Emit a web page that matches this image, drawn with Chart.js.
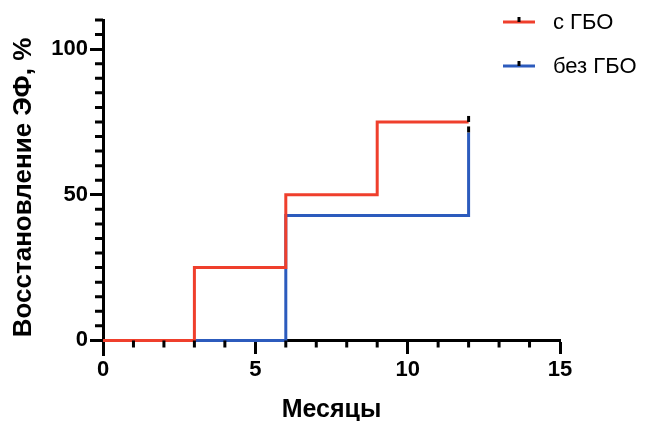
<!DOCTYPE html>
<html>
<head>
<meta charset="utf-8">
<script src="https://cdn.jsdelivr.net/npm/chart.js@4.4.1/dist/chart.umd.min.js"></script>
<style>
  html, body { margin: 0; padding: 0; background: #fff; }
  #wrap { width: 651px; height: 421px; }
</style>
</head>
<body>
<div id="wrap"><canvas id="c"></canvas></div>
<script>
// Kaplan-Meier style curves, values in %
const monthsHbo = [0, 3, 6, 9, 12];
const valuesHbo = [0, 25, 50, 75, 75];
const monthsNoHbo = [0, 6, 12];
const valuesNoHbo = [0, 42.9, 71.4];
const seriesNames = ['с ГБО', 'без ГБО'];
const seriesColors = ['#ef3f2c', '#2c5bbd'];
const xTicks = [0, 5, 10, 15];
const yTicks = [0, 50, 100];

const fontFamily = '"Liberation Sans", Arial, sans-serif';
const axisFont = { family: fontFamily, size: 22, weight: 'bold' };

// minor ticks, censor marks and legend
const kmExtras = {
    id: 'kmExtras',
    afterDatasetsDraw(chart) {
        const ctx = chart.ctx;
        const x = chart.scales.x, y = chart.scales.y;
        const y0 = y.getPixelForValue(0);
        ctx.save();
        ctx.strokeStyle = '#000';
        ctx.lineWidth = 3;
        ctx.beginPath();
        for (let v = 1; v < 15; v++) {
            if (v % 5 === 0) continue;
            const px = x.getPixelForValue(v);
            ctx.moveTo(px, y0);
            ctx.lineTo(px, y0 + 7);
        }
        for (let v = 5; v <= 110; v += 5) {
            if (v % 50 === 0) continue;
            const py = y.getPixelForValue(v);
            ctx.moveTo(x.left, py);
            ctx.lineTo(x.left - 8, py);
        }
        ctx.stroke();

        // censor ticks at the last point of each curve
        chart.data.datasets.forEach((ds, i) => {
            const pts = chart.getDatasetMeta(i).data;
            const p = pts[pts.length - 1];
            ctx.beginPath();
            ctx.moveTo(p.x, p.y);
            ctx.lineTo(p.x, p.y - 6);
            ctx.stroke();
        });

        // legend
        ctx.font = '22px ' + fontFamily;
        ctx.textBaseline = 'middle';
        chart.data.datasets.forEach((ds, i) => {
            const ly = 22 + i * 44;
            ctx.strokeStyle = ds.borderColor;
            ctx.beginPath();
            ctx.moveTo(503, ly);
            ctx.lineTo(535, ly);
            ctx.stroke();
            ctx.strokeStyle = '#000';
            ctx.beginPath();
            ctx.moveTo(519, ly);
            ctx.lineTo(519, ly - 5);
            ctx.stroke();
            ctx.fillStyle = '#000';
            ctx.fillText(ds.label, 553, ly + 1);
        });
        ctx.restore();
    }
};

new Chart(document.getElementById('c'), {
    type: 'line',
    data: {
        datasets: [
            {
                label: seriesNames[0],
                data: monthsHbo.map((m, i) => ({ x: m, y: valuesHbo[i] })),
                borderColor: seriesColors[0],
                borderWidth: 3,
                stepped: true,
                pointRadius: 0
            },
            {
                label: seriesNames[1],
                data: monthsNoHbo.map((m, i) => ({ x: m, y: valuesNoHbo[i] })),
                borderColor: seriesColors[1],
                borderWidth: 3,
                stepped: true,
                pointRadius: 0
            }
        ]
    },
    options: {
        responsive: true,
        maintainAspectRatio: false,
        animation: false,
        layout: { padding: { top: 20, right: 91, bottom: 66, left: 0 } },
        scales: {
            x: {
                type: 'linear',
                min: 0,
                max: 15,
                position: { y: 0 },
                afterBuildTicks: s => { s.ticks = xTicks.map(v => ({ value: v })); },
                grid: { drawOnChartArea: false, tickLength: 12, tickWidth: 3, tickColor: '#000' },
                border: { color: '#000', width: 3 },
                ticks: { color: '#000', font: axisFont, padding: 4, maxRotation: 0 },
                title: { display: true, text: 'Месяцы', color: '#000', font: { family: fontFamily, size: 25, weight: 'bold' }, padding: { top: 8, bottom: 0 } }
            },
            y: {
                type: 'linear',
                min: -5,
                max: 110,
                afterBuildTicks: s => { s.ticks = yTicks.map(v => ({ value: v })); },
                afterFit: s => { s.width = 103; },
                grid: { drawOnChartArea: false, tickLength: 13, tickWidth: 3, tickColor: '#000' },
                border: { color: '#000', width: 3 },
                ticks: { color: '#000', font: axisFont, padding: 2 },
                title: { display: true, text: 'Восстановление ЭФ, %', color: '#000', font: { family: fontFamily, size: 26, weight: 'bold' }, padding: { top: 8, bottom: 0 } }
            }
        },
        plugins: {
            legend: { display: false },
            tooltip: { enabled: false }
        }
    },
    plugins: [kmExtras]
});
</script>
</body>
</html>
